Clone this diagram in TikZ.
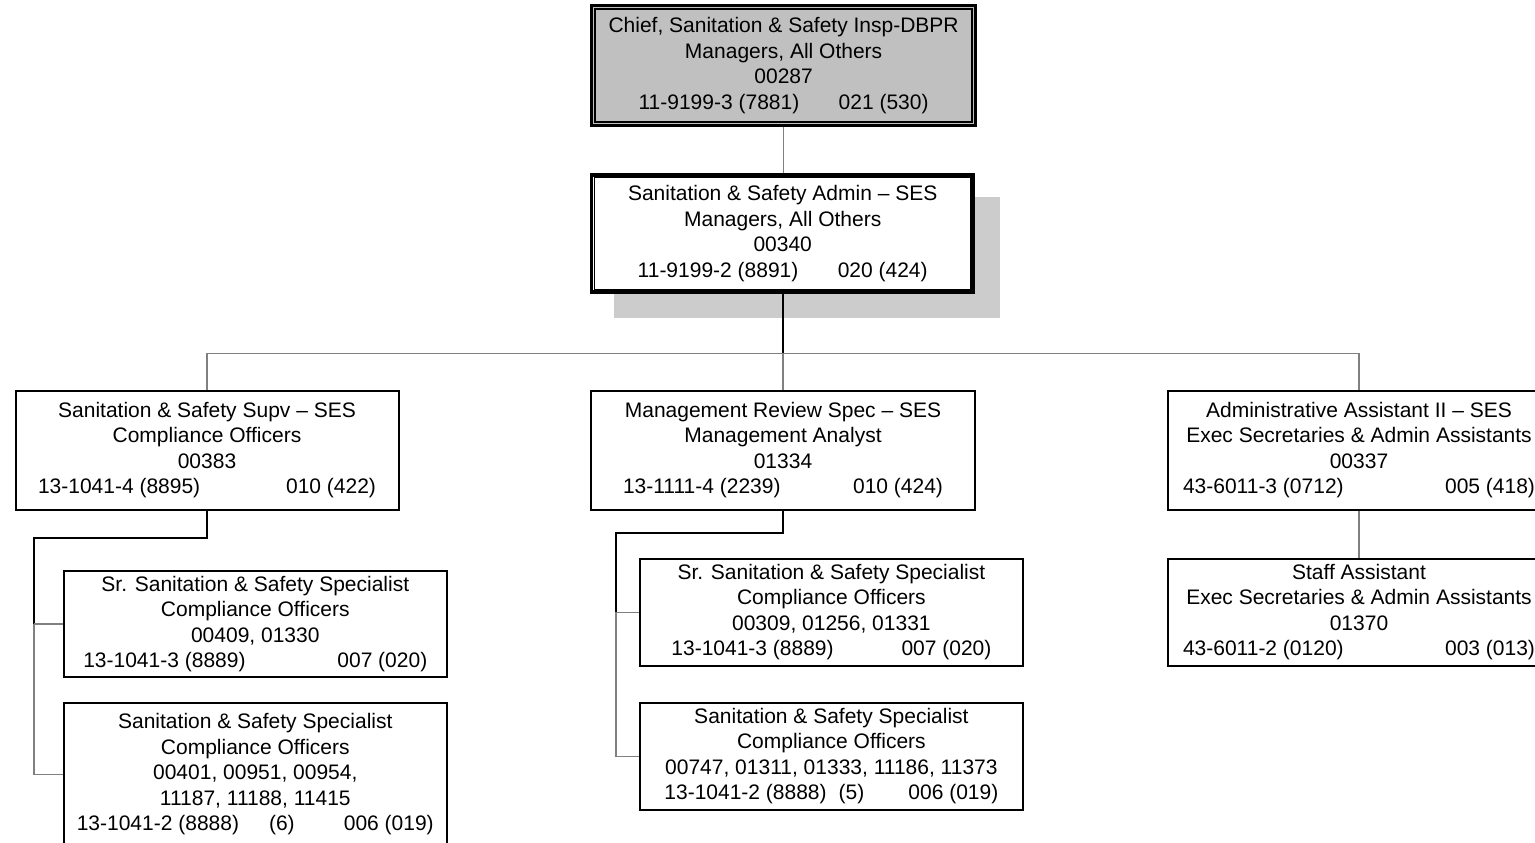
\documentclass[tikz,border=0pt]{standalone}
\usepackage{fontspec}
\setmainfont{Liberation Sans}
\usetikzlibrary{backgrounds}
\definecolor{headgray}{HTML}{C0C0C0}
\definecolor{shadowgray}{HTML}{CCCCCC}
\definecolor{linkgray}{HTML}{808080}
% a full-width last line: code on the left, grade on the right
\newcommand\twocol[3]{\hbox to #1{#2\hfill #3}}
\begin{document}
\begin{tikzpicture}[x=1pt,y=-1pt,
  txt/.style={font=\fontsize{21}{25.5}\selectfont, align=center, inner sep=0pt},
  box/.style={txt, draw=black, line width=2pt, fill=white, minimum width=383pt},
  headbox/.style={box, line width=3.3pt},
  link/.style={draw=linkgray, line width=1.3pt},
  trunk/.style={draw=black, line width=1.8pt, line join=miter},
]
\useasboundingbox (0,0) rectangle (1535,843);

% --- top two levels ---
\node[headbox, fill=headgray, minimum width=383.8pt, minimum height=119.6pt] (chief) at (783.6,65.5)
  {Chief, Sanitation \& Safety Insp-DBPR\\Managers, All Others\\00287\\
   \twocol{290pt}{11-9199-3 (7881)}{021 (530)}};
\draw[line width=1.4pt] ([shift={(5,5)}]chief.north west) rectangle ([shift={(-5,-5)}]chief.south east);

\node[headbox, minimum width=382pt, minimum height=117pt] (admin) at (782.7,233.5)
  {Sanitation \& Safety Admin – SES\\Managers, All Others\\00340\\
   \twocol{290pt}{11-9199-2 (8891)}{020 (424)}};
\draw[line width=1.4pt] ([shift={(4.2,4.2)}]admin.north west) rectangle ([shift={(-4.2,-4.2)}]admin.south east);

% --- second level ---
\node[box, minimum height=119pt] (sup) at (207,450)
  {Sanitation \& Safety Supv – SES\\Compliance Officers\\00383\\
   \twocol{338pt}{13-1041-4 (8895)}{010 (422)}};
\node[box, minimum width=383.4pt, minimum height=119pt] (mrs) at (783,450)
  {Management Review Spec – SES\\Management Analyst\\01334\\
   \twocol{320pt}{13-1111-4 (2239)}{010 (424)}};
\node[box, minimum height=119pt] (adm) at (1359,450)
  {Administrative Assistant II – SES\\Exec Secretaries \& Admin Assistants\\00337\\
   \twocol{352pt}{43-6011-3 (0712)}{005 (418)}};

% --- third level ---
\node[box, minimum height=106.7pt] (supA) at (255.3,623.9)
  {Sr. Sanitation \& Safety Specialist\\Compliance Officers\\00409, 01330\\
   \twocol{344pt}{13-1041-3 (8889)}{007 (020)}};
\node[box, minimum height=143pt] (supB) at (255.3,774.3)
  {Sanitation \& Safety Specialist\\Compliance Officers\\00401, 00951, 00954,\\11187, 11188, 11415\\
   \twocol{357pt}{13-1041-2 (8888)\hspace{30pt}(6)}{006 (019)}};
\node[box, minimum width=383.7pt, minimum height=106.7pt] (mrsC) at (831.4,612.2)
  {Sr. Sanitation \& Safety Specialist\\Compliance Officers\\00309, 01256, 01331\\
   \twocol{320pt}{13-1041-3 (8889)}{007 (020)}};
\node[box, minimum width=383.7pt, minimum height=106.7pt] (mrsD) at (831.4,756.2)
  {Sanitation \& Safety Specialist\\Compliance Officers\\00747, 01311, 01333, 11186, 11373\\
   \twocol{334pt}{13-1041-2 (8888)\hspace{12pt}(5)}{006 (019)}};
\node[box, minimum height=107pt] (admE) at (1359,612)
  {Staff Assistant\\Exec Secretaries \& Admin Assistants\\01370\\
   \twocol{352pt}{43-6011-2 (0120)}{003 (013)}};

% --- shadow and connectors, under the boxes ---
\begin{pgfonlayer}{background}
  \fill[shadowgray] (614,197) rectangle (1000,318);
  \coordinate (bus) at (783,353.5);
  \coordinate (lspine) at (34,538.3);
  \coordinate (mspine) at (616,533.3);

  \draw[link] (chief.south) -- (chief.south |- admin.north);
  \draw[trunk] (admin.south) -- (admin.south |- bus);
  \draw[link] (sup.north) -- (sup.north |- bus) -- (adm.north |- bus) -- (adm.north);
  \draw[link] (mrs.north) -- (mrs.north |- bus);

  \draw[trunk] (sup.south) -- (sup.south |- lspine) -- (lspine) -- (lspine |- supA.west);
  \draw[link] (lspine |- supA.west) -- (supA.west);
  \draw[link] (lspine |- supA.west) -- (lspine |- supB.west) -- (supB.west);

  \draw[trunk] (mrs.south) -- (mrs.south |- mspine) -- (mspine) -- (mspine |- mrsC.west);
  \draw[link] (mspine |- mrsC.west) -- (mrsC.west);
  \draw[link] (mspine |- mrsC.west) -- (mspine |- mrsD.west) -- (mrsD.west);

  \draw[link] (adm.south) -- (admE.north);
\end{pgfonlayer}
\end{tikzpicture}
\end{document}
